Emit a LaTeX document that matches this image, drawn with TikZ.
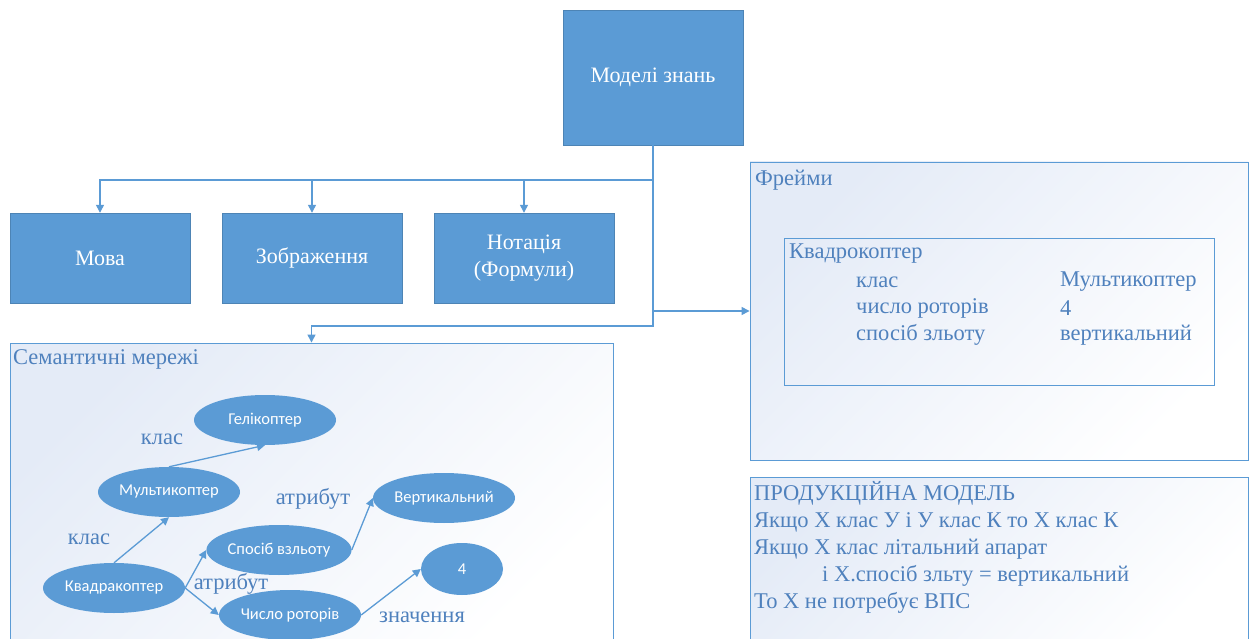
\documentclass[tikz,border=0pt]{standalone}
\usepackage{fontspec}
\setmainfont{Liberation Serif}
\newfontfamily\serfont{Liberation Serif}
\newfontfamily\ellfont{Carlito}
\usetikzlibrary{arrows.meta,positioning,calc,shapes.geometric}
\definecolor{boxblue}{HTML}{5B9BD5}
\definecolor{txtblue}{HTML}{4F81BD}
\definecolor{paleblue}{HTML}{E4EBF7}

\begin{document}
\begin{tikzpicture}[x=1pt,y=-1pt,
  kbox/.style={draw=boxblue!85!black, fill=boxblue, text=white, minimum width=180pt, minimum height=90pt, inner sep=0pt, align=center, font=\serfont\fontsize{22}{27}\selectfont},
  panel/.style={draw=boxblue, line width=0.9pt, top color=paleblue, bottom color=white, shading angle=45, inner sep=0pt},
  ell/.style={ellipse, fill=boxblue, text=white, minimum width=142pt, minimum height=50pt, inner sep=0pt, font=\ellfont\fontsize{16.5}{19}\selectfont},
  lbl/.style={text=txtblue, font=\serfont\fontsize{22.5}{26}\selectfont},
  ttl/.style={text=txtblue, anchor=west, inner sep=0pt, font=\serfont\fontsize{22.5}{26}\selectfont},
  arr/.style={draw=boxblue, line width=1.3pt, -{Triangle[length=8pt,width=8pt]}}]
\clip (0,0) rectangle (1251,639);
\fill[white] (0,0) rectangle (1251,639);

% top level
\node[kbox, minimum height=135pt] (models) at (653,77.5) {Моделі знань};
\node[kbox] (mova) at (100,258) {Мова};
\node[kbox] (zobr) at (312,258) {Зображення};
\node[kbox] (notac) at (524,258) {Нотація\\(Формули)};

% panels
\node[panel, minimum width=603pt, minimum height=302pt] (sem) at (311.5,494) {};
\node[panel, minimum width=498pt, minimum height=298pt] (frames) at (999,311) {};
\node[panel, minimum width=498pt, minimum height=168pt] (prod) at (999,561) {};

\coordinate (split) at (653,180);
\coordinate (semturn) at (653,326);
\draw[arr] (models.south) -- (split) -| (mova.north);
\draw[arr] (split) -| (zobr.north);
\draw[arr] (split) -| (notac.north);
\draw[arr] (split) -- (semturn) -| (sem.north);
\draw[arr] (split) |- (frames.west);

% frames
\node[ttl] (frtitle) at (755,180) {Фрейми};
\node[draw=boxblue, line width=0.9pt, minimum width=430pt, minimum height=147pt] (frame) at (999,311.5) {};
\node[ttl] (frname) at (789,254) {Квадрокоптер};
\node[ttl] (slot1) at (856,282) {клас};
\node[ttl] (slot2) at (856,308) {число роторів};
\node[ttl] (slot3) at (856,335) {спосіб зльоту};
\node[ttl] (val1) at (1060,282) {Мультикоптер};
\node[ttl] (val2) at (1060,308) {4};
\node[ttl] (val3) at (1060,335) {вертикальний};

% production model
\node[ttl, align=left, font=\serfont\fontsize{22.5}{27}\selectfont, anchor=north west] (rules) at (754,481)
  {ПРОДУКЦІЙНА МОДЕЛЬ\\
   Якщо Х клас У і У клас К то Х клас К\\
   Якщо Х клас літальний апарат\\
   \hspace{68pt}і Х.спосіб зльту = вертикальний\\
   То Х не потребує ВПС};

% semantic network
\node[ttl] (semtitle) at (13,359) {Семантичні мережі};
\node[ell] (heli) at (265,420) {Гелікоптер};
\node[ell] (multi) at (169,492) {Мультикоптер};
\node[ell] (vert) at (444,498) {Вертикальний};
\node[ell] (sposib) at (279,550) {Спосіб взльоту};
\node[ell, minimum width=82pt, minimum height=52pt] (four) at (462,569) {4};
\node[ell] (quad) at (114,588) {Квадракоптер};
\node[ell] (chyslo) at (290,615) {Число роторів};

\draw[arr] (multi.north) -- (heli.south);
\draw[arr] (quad.north) -- (multi.south);
\draw[arr] (quad.east) -- (sposib.west);
\draw[arr] (quad.east) -- (chyslo.west);
\draw[arr] (sposib.east) -- (vert.west);
\draw[arr] (chyslo.east) -- (four.west);

\node[lbl] (cls1) at (162,439) {клас};
\node[lbl] (cls2) at (89,539) {клас};
\node[lbl] (attr1) at (313,499) {атрибут};
\node[lbl] (attr2) at (231,584) {атрибут};
\node[lbl] (value) at (422,617) {значення};
\end{tikzpicture}
\end{document}
